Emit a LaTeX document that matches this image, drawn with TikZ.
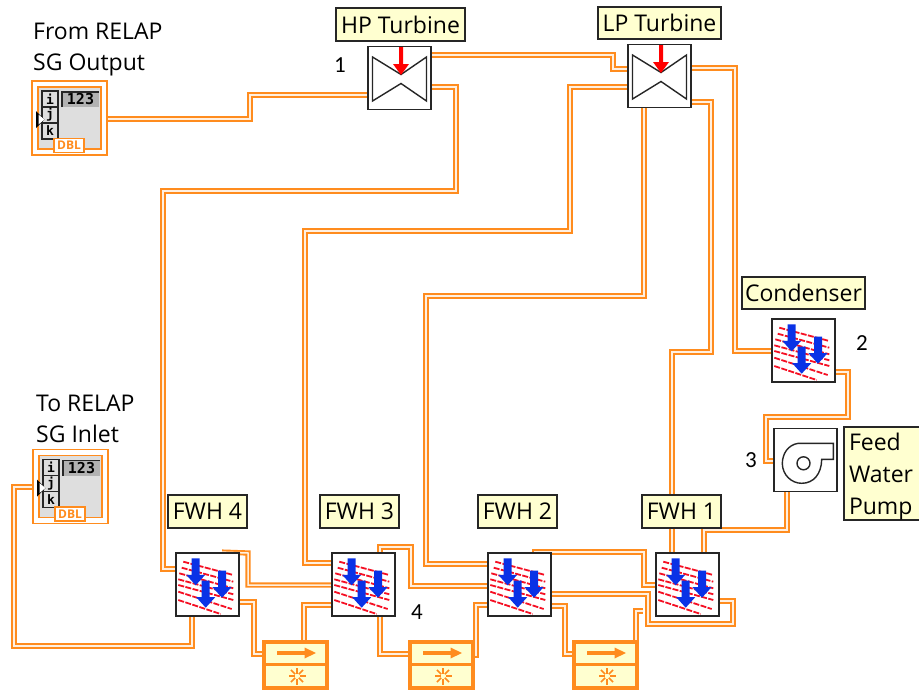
\documentclass[tikz,border=0pt]{standalone}
\usepackage{fontspec}
\setmainfont{Open Sans}
\newfontfamily\numfont{Carlito}
\newfontfamily\monofont{DejaVu Sans Mono Bold}
\usetikzlibrary{backgrounds}
\definecolor{wirecol}{RGB}{255,140,30}
\definecolor{wirein}{RGB}{255,240,225}
\definecolor{tipcol}{RGB}{255,255,208}
\definecolor{edgecol}{RGB}{38,38,38}
\definecolor{hatchcol}{RGB}{245,15,35}
\definecolor{bluecol}{RGB}{10,50,230}
\definecolor{graycol}{RGB}{222,222,222}
\tikzset{
  wire/.style={draw=wirecol,line width=1.9pt,double=wirein,double distance=1.5pt},
  block/.style={draw=edgecol,fill=white,line width=1.8pt,minimum size=63pt,inner sep=0pt},
  mixer/.style={draw=wirecol,fill=tipcol,line width=4pt,minimum width=63pt,minimum height=46pt,inner sep=0pt},
  tip/.style={draw=edgecol,fill=tipcol,line width=1.5pt,inner sep=0pt,font=\fontsize{23}{32}\selectfont},
  note/.style={inner sep=0pt,align=left,anchor=west,font=\fontsize{23}{31}\selectfont},
  num/.style={inner sep=0pt,font=\numfont\fontsize{23}{23}\selectfont},
  indicator/.style={draw=wirecol,fill=white,line width=1.7pt,minimum width=75pt,minimum height=74pt,inner sep=0pt},
  turbine/.pic={
    \draw[edgecol,line width=1.4pt] (-27,-21) -- (1.5,-3.5) -- (27,-21) -- (27,23) -- (1.5,5.5) -- (-27,23) -- cycle;
    \fill[red] (-0.5,-31) -- (3.5,-31) -- (3.5,-14) -- (9.5,-14) -- (1.5,-3) -- (-6.5,-14) -- (-0.5,-14) -- cycle;
  },
  heater/.pic={
    \foreach \xa/\ya/\xb/\yb in {-24.2/-22.8/25.8/-9.5,-25.8/-16.8/25.8/-2.8,-28.2/-11.2/25.8/3.8,-29.2/-5.2/25.8/9.8,-29.2/0.5/25.8/15.5,-29.2/7.2/24.2/24.5,-29.2/15.5/13.2/29.5}
      \draw[hatchcol,line width=1.8pt,dash pattern=on 6pt off 1.4pt] (\xa,\ya) -- (\xb,\yb);
    \foreach \xa/\ya in {-11.8/-26.2,14.5/-13.8,-1.8/-3.8}
      \fill[bluecol] (\xa-4,\ya) -- (\xa+4,\ya) -- (\xa+4,\ya+16.5) -- (\xa+9.5,\ya+16.5) -- (\xa,\ya+27) -- (\xa-9.5,\ya+16.5) -- (\xa-4,\ya+16.5) -- cycle;
  },
  pump/.pic={
    \draw[edgecol,line width=1.4pt] (27.8,-16.7) -- (-7.2,-16.7) .. controls (-18,-15) and (-23,-6) .. (-23.2,3.5) .. controls (-23,15) and (-14,23.3) .. (-3.8,23.3) .. controls (8,23.3) and (16,14) .. (16.2,-0.7) -- (27.8,-0.7) -- cycle;
    \draw[edgecol,line width=1.4pt] (-2,3.3) circle (6.5);
  },
  mixsign/.pic={
    \draw[wirecol,line width=3pt] (-30,-1) -- (30,-1);
    \draw[wirecol,line width=3.2pt] (-18.5,-12) -- (10,-12);
    \fill[wirecol] (9,-17.5) -- (20.5,-12) -- (9,-6.5) -- cycle;
    \foreach \a in {0,45,...,315}
      \draw[wirecol,line width=1.6pt] (1.5,11)+(\a:2.5) -- +(\a:8.5);
  },
  arrayicon/.pic={
    \draw[wirecol,fill=graycol,line width=1.7pt] (-31.5,-31) rectangle (31.5,31);
    \foreach \ya/\tx in {-27/i,-11/j,5/k}{
      \draw[edgecol,fill=graycol,line width=1.3pt] (-27.5,\ya) rectangle (-11.5,\ya+16);
      \node[inner sep=0pt,font=\monofont\fontsize{13}{13}\selectfont] (cell\tx) at (-19.5,\ya+8) {\tx};
    }
    \node[fill=black!30,inner sep=0pt,minimum width=37pt,minimum height=15pt,font=\monofont\fontsize{15}{15}\selectfont] (val) at (11,-18.5) {123};
    \draw[edgecol,line width=1.3pt] (-7.5,-11) -- (-7.5,-26) -- (29.5,-26);
    \node[draw=wirecol,fill=white,line width=1.7pt,inner sep=0pt,minimum width=30pt,minimum height=14pt,text=wirecol,font=\bfseries\fontsize{12}{12}\selectfont] (dbl) at (-0.5,27.5) {DBL};
    \fill[black] (-33.5,-7) -- (-25,1.5) -- (-33.5,10) -- cycle;
    \fill[white] (-31,-3.5) -- (-25,1.5) -- (-31,6.5) -- cycle;
  }
}
\begin{document}
\begin{tikzpicture}[x=1pt,y=-1pt]
\useasboundingbox (0,0) rectangle (919,691);

% ---- array indicators ----
\node[indicator] (arrout) at (69.5,118) {};
\pic (a) at (arrout.center) {arrayicon};
\node[indicator] (arrin) at (70.5,486.5) {};
\pic (b) at (arrin.center) {arrayicon};

% ---- turbines, condenser, pump ----
\node[block] (hp) at (399.5,78) {};
\pic at (hp.center) {turbine};
\node[block] (lp) at (659.5,76) {};
\pic at (lp.center) {turbine};
\node[block] (cond) at (803.5,350.5) {};
\pic at (cond.center) {heater};
\node[block] (fwp) at (805.5,460) {};
\pic at (fwp.center) {pump};

% ---- feed water heaters ----
\node[block] (fwh4) at (207.5,584.5) {};
\pic at (fwh4.center) {heater};
\node[block] (fwh3) at (363.5,584.5) {};
\pic at (fwh3.center) {heater};
\node[block] (fwh2) at (519.5,584.5) {};
\pic at (fwh2.center) {heater};
\node[block] (fwh1) at (687.5,584.5) {};
\pic at (fwh1.center) {heater};

% ---- mixers ----
\node[mixer] (mix1) at (295.5,665) {};
\pic at (mix1.center) {mixsign};
\node[mixer] (mix2) at (441.5,665) {};
\pic at (mix2.center) {mixsign};
\node[mixer] (mix3) at (605.5,665) {};
\pic at (mix3.center) {mixsign};

% free end next to FWH 1
\coordinate (mix3end) at (643,611);

% ---- wires (behind the blocks) ----
\begin{scope}[on background layer]
\draw[wire] (arrout.east |- 0,119) -- (250,119) -- (250,95) -- (hp.west |- 0,95);
\draw[wire] (hp.east |- 0,55) -- (613,55) -- (613,69) -- (lp.west |- 0,69);
\draw[wire] (hp.east |- 0,87) -- (456,87) -- (456,191) -- (163,191) -- (163,569) -- (fwh4.west |- 0,569);
\draw[wire] (lp.west |- 0,87) -- (570,87) -- (570,231) -- (305,231) -- (305,563) -- (fwh3.west |- 0,563);
\draw[wire] (lp.south -| 644,0) -- (644,296) -- (426,296) -- (426,564) -- (fwh2.west |- 0,564);
\draw[wire] (lp.east |- 0,102) -- (711,102) -- (711,352) -- (672,352) -- (fwh1.north -| 672,0);
\draw[wire] (lp.east |- 0,68) -- (735,68) -- (735,351) -- (cond.west |- 0,351);
\draw[wire] (cond.east |- 0,372) -- (848,372) -- (848,417) -- (766,417) -- (766,461) -- (fwp.west |- 0,461);
\draw[wire] (fwp.south -| 787,0) -- (787,530) -- (704,530) -- (fwh1.north -| 704,0);
\draw[wire] (fwh4.south -| 192,0) -- (192,646) -- (14,646) -- (14,487) -- (arrin.west |- 0,487);
\draw[wire] (fwh4.east |- 0,602) -- (254,602) -- (254,654) -- (mix1.west |- 0,654);
\draw[wire] (fwh4.north -| 222,0) -- (248,553) -- (248,585) -- (fwh3.west |- 0,585);
\draw[wire] (mix1.north -| 304,0) -- (304,605) -- (fwh3.west |- 0,605);
\draw[wire] (fwh3.north -| 380,0) -- (380,547) -- (411,547) -- (411,586) -- (fwh2.west |- 0,586);
\draw[wire] (fwh3.south -| 380,0) -- (380,654) -- (mix2.west |- 0,654);
\draw[wire] (mix2.east |- 0,655) -- (476,655) -- (476,605) -- (fwh2.west |- 0,605);
\draw[wire] (fwh2.north -| 535,0) -- (535,552) -- (644,552) -- (644,585) -- (fwh1.west |- 0,585);
\draw[wire] (fwh2.east |- 0,594) -- (648,594) -- (648,624) -- (733,624) -- (733,601) -- (fwh1.east |- 0,601);
\draw[wire] (fwh2.east |- 0,606) -- (565,606) -- (565,654) -- (mix3.west |- 0,654);
\draw[wire] (mix3.east |- 0,656) -- (636,656) -- (636,611) -- (mix3end);
\end{scope}

% ---- labels ----
\node[tip,minimum width=129pt,minimum height=33pt] (hplabel) at (400.5,24.5) {HP Turbine};
\node[tip,minimum width=123pt,minimum height=32pt] (lplabel) at (659.5,23) {LP Turbine};
\node[tip,minimum width=123pt,minimum height=32pt] (condlabel) at (803.5,293) {Condenser};
\node[tip,minimum width=79pt,minimum height=33pt] (fwh4label) at (207.5,511.5) {FWH 4};
\node[tip,minimum width=79pt,minimum height=33pt] (fwh3label) at (359.5,511.5) {FWH 3};
\node[tip,minimum width=79pt,minimum height=33pt] (fwh2label) at (517.5,511.5) {FWH 2};
\node[tip,minimum width=79pt,minimum height=33pt] (fwh1label) at (681.5,511.5) {FWH 1};
\node[tip,text width=70pt,inner xsep=5pt,inner ysep=0pt,minimum height=93pt,align=left] (fwplabel) at (884,473.5) {\rule{0pt}{23pt}Feed\\Water\\Pump};
\node[note] (fromlabel) at (33,49.5) {From RELAP\\SG Output};
\node[note] (tolabel) at (36,418.5) {To RELAP\\SG Inlet};

% ---- numbers ----
\node[num] (n1) at (340,65) {1};
\node[num] (n2) at (862,343) {2};
\node[num] (n3) at (751,460) {3};
\node[num] (n4) at (417,612) {4};

\end{tikzpicture}
\end{document}
